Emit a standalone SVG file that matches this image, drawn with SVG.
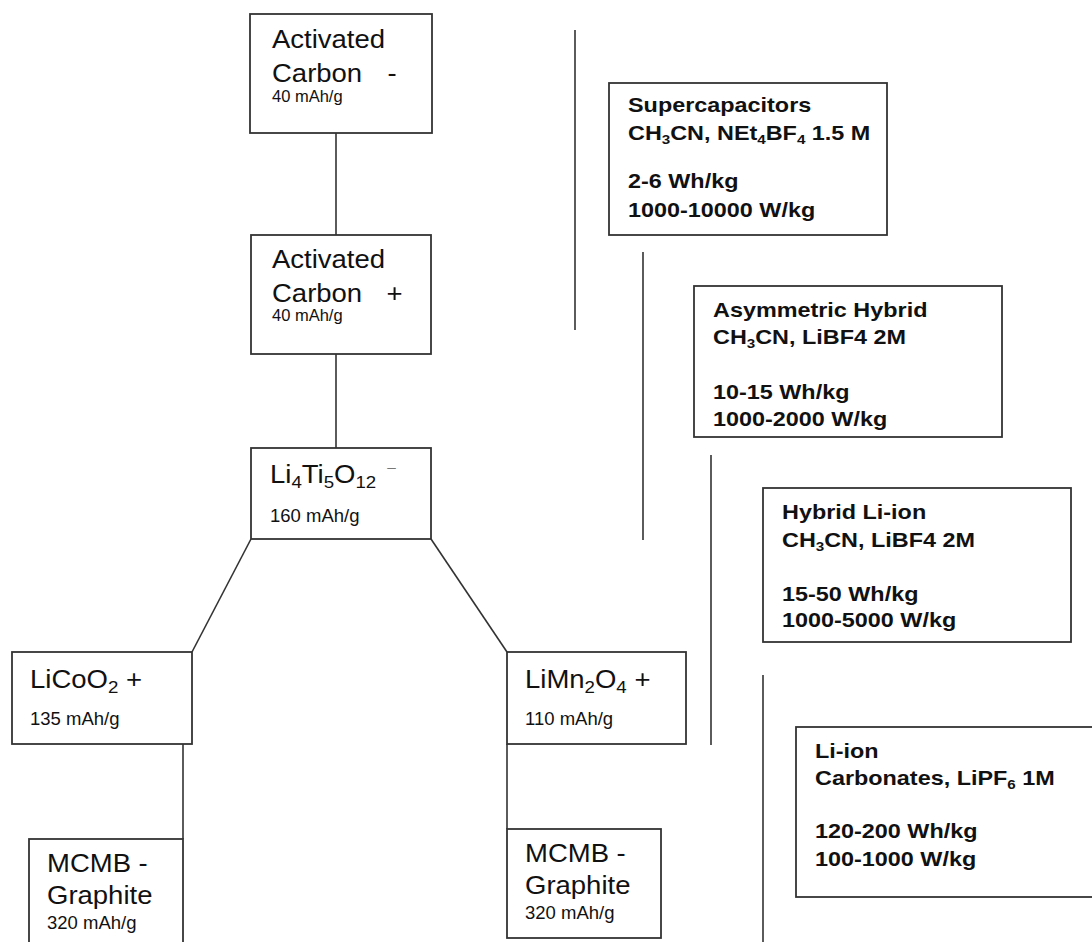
<svg xmlns="http://www.w3.org/2000/svg" width="1092" height="942" viewBox="0 0 1092 942">
<style>
  .box { fill: #fff; stroke: #333; stroke-width: 1.8; }
  .ln { stroke: #333; stroke-width: 1.6; fill: none; }
  .big { font-family: "Liberation Sans", Arial, sans-serif; font-size: 25px; fill: #111; }
  .sm { font-family: "Liberation Sans", Arial, sans-serif; font-size: 18.5px; fill: #111; }
  .xs { font-family: "Liberation Sans", Arial, sans-serif; font-size: 16.5px; fill: #111; }
  .b { font-family: "Liberation Sans", Arial, sans-serif; font-size: 20px; font-weight: bold; fill: #111; }
</style>
<rect width="1092" height="942" fill="#fff"/>
<g id="connectors">
  <line class="ln" x1="336" y1="133" x2="336" y2="235"/>
  <line class="ln" x1="336" y1="354" x2="336" y2="448"/>
  <line class="ln" x1="251" y1="539" x2="192" y2="652"/>
  <line class="ln" x1="431" y1="539" x2="507" y2="652"/>
  <line class="ln" x1="183" y1="744" x2="183" y2="839"/>
  <line class="ln" x1="507" y1="744" x2="507" y2="829"/>
  <line class="ln" x1="575" y1="30" x2="575" y2="330"/>
  <line class="ln" x1="643" y1="252" x2="643" y2="540"/>
  <line class="ln" x1="711" y1="455" x2="711" y2="745"/>
  <line class="ln" x1="763" y1="675" x2="763" y2="942"/>
</g>
<g id="ac-neg">
  <rect class="box" x="250" y="14" width="182" height="119"/>
  <text class="big" transform="translate(272,48) scale(1.1,1)">Activated</text>
  <text class="big" transform="translate(272,82) scale(1.1,1)">Carbon<tspan x="105">-</tspan></text>
  <text class="xs" x="272" y="102">40 mAh/g</text>
</g>
<g id="ac-pos">
  <rect class="box" x="251" y="235" width="180" height="119"/>
  <text class="big" transform="translate(272,268) scale(1.1,1)">Activated</text>
  <text class="big" transform="translate(272,302) scale(1.1,1)">Carbon<tspan x="104">+</tspan></text>
  <text class="xs" x="272" y="321">40 mAh/g</text>
</g>
<g id="lto">
  <rect class="box" x="251" y="448" width="180" height="91"/>
  <text class="big" transform="translate(270,483) scale(1.1,1)">Li<tspan font-size="17" dy="5">4</tspan><tspan dy="-5">Ti</tspan><tspan font-size="17" dy="5">5</tspan><tspan dy="-5">O</tspan><tspan font-size="17" dy="5">12</tspan><tspan font-size="14" fill="#777" dx="10" dy="-16">–</tspan></text>
  <text class="sm" x="270" y="522">160 mAh/g</text>
</g>
<g id="lco">
  <rect class="box" x="12" y="652" width="180" height="92"/>
  <text class="big" transform="translate(30,688) scale(1.1,1)">LiCoO<tspan font-size="17" dy="5">2</tspan><tspan dy="-5"> +</tspan></text>
  <text class="sm" x="30" y="725">135 mAh/g</text>
</g>
<g id="lmo">
  <rect class="box" x="507" y="652" width="179" height="92"/>
  <text class="big" transform="translate(525,688) scale(1.1,1)">LiMn<tspan font-size="17" dy="5">2</tspan><tspan dy="-5">O</tspan><tspan font-size="17" dy="5">4</tspan><tspan dy="-5"> +</tspan></text>
  <text class="sm" x="525" y="725">110 mAh/g</text>
</g>
<g id="mcmb1">
  <rect class="box" x="29" y="839" width="154" height="120"/>
  <text class="big" transform="translate(47,872) scale(1.1,1)">MCMB -</text>
  <text class="big" transform="translate(47,904) scale(1.1,1)">Graphite</text>
  <text class="sm" x="47" y="929">320 mAh/g</text>
</g>
<g id="mcmb2">
  <rect class="box" x="507" y="829" width="154" height="109"/>
  <text class="big" transform="translate(525,862) scale(1.1,1)">MCMB -</text>
  <text class="big" transform="translate(525,894) scale(1.1,1)">Graphite</text>
  <text class="sm" x="525" y="919">320 mAh/g</text>
</g>
<g id="supercap">
  <rect class="box" x="609" y="83" width="278" height="152"/>
  <text class="b" transform="translate(628,112) scale(1.17,1)">Supercapacitors</text>
  <text class="b" transform="translate(628,140) scale(1.17,1)">CH<tspan font-size="13" dy="4">3</tspan><tspan dy="-4">CN, NEt</tspan><tspan font-size="13" dy="4">4</tspan><tspan dy="-4">BF</tspan><tspan font-size="13" dy="4">4</tspan><tspan dy="-4"> 1.5 M</tspan></text>
  <text class="b" transform="translate(628,188) scale(1.17,1)">2-6 Wh/kg</text>
  <text class="b" transform="translate(628,217) scale(1.17,1)">1000-10000 W/kg</text>
</g>
<g id="asym">
  <rect class="box" x="694" y="286" width="308" height="151"/>
  <text class="b" transform="translate(713,317) scale(1.17,1)">Asymmetric Hybrid</text>
  <text class="b" transform="translate(713,344) scale(1.17,1)">CH<tspan font-size="13" dy="4">3</tspan><tspan dy="-4">CN, LiBF4 2M</tspan></text>
  <text class="b" transform="translate(713,399) scale(1.17,1)">10-15 Wh/kg</text>
  <text class="b" transform="translate(713,426) scale(1.17,1)">1000-2000 W/kg</text>
</g>
<g id="hybrid">
  <rect class="box" x="763" y="488" width="308" height="154"/>
  <text class="b" transform="translate(782,519) scale(1.17,1)">Hybrid Li-ion</text>
  <text class="b" transform="translate(782,547) scale(1.17,1)">CH<tspan font-size="13" dy="4">3</tspan><tspan dy="-4">CN, LiBF4 2M</tspan></text>
  <text class="b" transform="translate(782,601) scale(1.17,1)">15-50 Wh/kg</text>
  <text class="b" transform="translate(782,627) scale(1.17,1)">1000-5000 W/kg</text>
</g>
<g id="liion">
  <rect class="box" x="796" y="727" width="310" height="170"/>
  <text class="b" transform="translate(815,758) scale(1.17,1)">Li-ion</text>
  <text class="b" transform="translate(815,785) scale(1.17,1)">Carbonates, LiPF<tspan font-size="13" dy="4">6</tspan><tspan dy="-4"> 1M</tspan></text>
  <text class="b" transform="translate(815,838) scale(1.17,1)">120-200 Wh/kg</text>
  <text class="b" transform="translate(815,866) scale(1.17,1)">100-1000 W/kg</text>
</g>
</svg>
